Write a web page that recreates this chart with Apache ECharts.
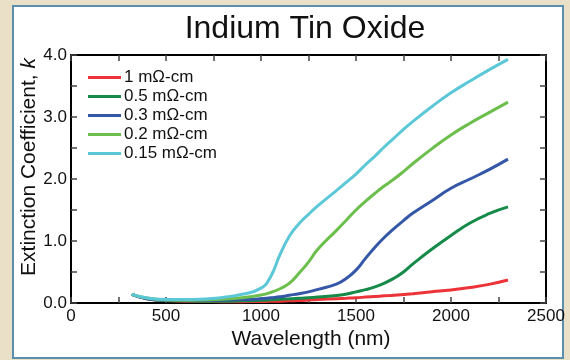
<!DOCTYPE html>
<html>
<head>
<meta charset="utf-8">
<script src="https://cdn.jsdelivr.net/npm/echarts@6/dist/echarts.min.js"></script>
<style>
  html, body { margin: 0; padding: 0; }
  #wrap { position: relative; width: 570px; height: 360px; background: #eadfc7; }
  #panel {
    position: absolute; left: 12px; top: 5px; width: 552px; height: 354px;
    box-sizing: border-box; border: 2px solid #5a8fae; background: #ffffff;
  }
  #chart { position: absolute; left: 0; top: 0; width: 570px; height: 360px; }
</style>
</head>
<body>
<div id="wrap">
  <div id="panel"></div>
  <div id="chart"></div>
</div>
<script>
// wavelength grid (nm) shared by all curves
const wavelength = [320, 400, 500, 600, 700, 800, 900, 1000, 1050, 1100, 1150, 1200, 1250, 1300, 1400, 1450, 1500, 1550, 1600, 1650, 1700, 1750, 1800, 1900, 2000, 2100, 2200, 2300];

// extinction coefficient k
const k_1 = [0.14, 0.07, 0.04, 0.03, 0.025, 0.02, 0.02, 0.025, 0.027, 0.03, 0.035, 0.04, 0.047, 0.055, 0.07, 0.077, 0.085, 0.095, 0.105, 0.115, 0.125, 0.137, 0.15, 0.18, 0.21, 0.25, 0.3, 0.37];
const k_05 = [0.14, 0.07, 0.04, 0.035, 0.03, 0.03, 0.035, 0.045, 0.052, 0.06, 0.067, 0.075, 0.085, 0.095, 0.12, 0.145, 0.18, 0.215, 0.26, 0.32, 0.4, 0.5, 0.63, 0.87, 1.09, 1.29, 1.44, 1.55];
const k_03 = [0.14, 0.07, 0.045, 0.04, 0.04, 0.045, 0.055, 0.07, 0.085, 0.1, 0.125, 0.15, 0.18, 0.22, 0.31, 0.4, 0.53, 0.72, 0.9, 1.06, 1.2, 1.33, 1.45, 1.65, 1.85, 2.0, 2.15, 2.32];
const k_02 = [0.14, 0.08, 0.05, 0.045, 0.05, 0.06, 0.085, 0.13, 0.17, 0.23, 0.32, 0.48, 0.66, 0.87, 1.18, 1.34, 1.5, 1.64, 1.77, 1.89, 2.0, 2.12, 2.25, 2.49, 2.71, 2.9, 3.07, 3.24];
const k_015 = [0.14, 0.08, 0.055, 0.055, 0.065, 0.09, 0.14, 0.24, 0.42, 0.78, 1.08, 1.28, 1.43, 1.57, 1.82, 1.95, 2.08, 2.23, 2.37, 2.52, 2.66, 2.8, 2.93, 3.17, 3.39, 3.58, 3.76, 3.93];

const names = ["1 mΩ-cm", "0.5 mΩ-cm", "0.3 mΩ-cm", "0.2 mΩ-cm", "0.15 mΩ-cm"];
const colors = ["#ec3338", "#168a48", "#3557a8", "#6cbf4c", "#5cc8d7"];
const values = [k_1, k_05, k_03, k_02, k_015];

const font = "Liberation Sans, Arial, sans-serif";

const chart = echarts.init(document.getElementById("chart"));

const tickStyle = { show: true, inside: true, length: 6, lineStyle: { color: "#444", width: 1.5 } };
const minorStyle = { show: true, splitNumber: 2, length: 6, lineStyle: { color: "#444", width: 1.5 } };
const lineStyle = { show: true, onZero: false, lineStyle: { color: "#000", width: 2 } };

const option = {
  animation: false,
  title: {
    text: "Indium Tin Oxide",
    left: 300,
    textAlign: "center",
    top: 8,
    textStyle: { fontFamily: font, fontSize: 32, fontWeight: "normal", color: "#111" },
  },
  legend: {
    orient: "vertical",
    left: 88,
    top: 68,
    itemWidth: 33,
    itemHeight: 3,
    itemGap: 0,
    icon: "rect",
    padding: 0,
    data: names,
    textStyle: { fontFamily: font, fontSize: 17, color: "#111", lineHeight: 19, padding: [0, 0, 0, -2] },
  },
  grid: { left: 71, right: 24, top: 55, bottom: 57 },
  xAxis: [
    {
      type: "value",
      min: 0,
      max: 2500,
      interval: 500,
      name: "Wavelength (nm)",
      nameLocation: "middle",
      nameGap: 26,
      nameMoveOverlap: false,
      nameTextStyle: { fontFamily: font, fontSize: 21, color: "#111", padding: [0, 0, 0, 5] },
      axisLine: lineStyle,
      axisTick: tickStyle,
      minorTick: minorStyle,
      splitLine: { show: false },
      axisLabel: { fontFamily: font, fontSize: 17, color: "#111", margin: 5, formatter: (v) => String(v) },
    },
    {
      type: "value",
      position: "top",
      min: 0,
      max: 2500,
      interval: 500,
      axisLine: lineStyle,
      axisTick: tickStyle,
      minorTick: minorStyle,
      splitLine: { show: false },
      axisLabel: { show: false },
    },
  ],
  yAxis: [
    {
      type: "value",
      min: 0,
      max: 4,
      interval: 1,
      name: "{a|Extinction Coefficient, }{b|k}",
      nameLocation: "middle",
      nameGap: 31,
      nameMoveOverlap: false,
      nameTextStyle: {
        padding: [0, 0, 0, 24],
        rich: {
          a: { fontFamily: font, fontSize: 21, color: "#111" },
          b: { fontFamily: font, fontSize: 21, color: "#111", fontStyle: "italic" },
        },
      },
      axisLine: lineStyle,
      axisTick: tickStyle,
      minorTick: minorStyle,
      splitLine: { show: false },
      axisLabel: {
        fontFamily: font, fontSize: 17, color: "#111", margin: 4,
        formatter: (v) => v.toFixed(1),
      },
    },
    {
      type: "value",
      position: "right",
      min: 0,
      max: 4,
      interval: 1,
      axisLine: lineStyle,
      axisTick: tickStyle,
      minorTick: minorStyle,
      splitLine: { show: false },
      axisLabel: { show: false },
    },
  ],
  series: names.map((n, i) => ({
    name: n,
    type: "line",
    data: wavelength.map((w, j) => [w, values[i][j]]),
    smooth: 0.5,
    showSymbol: false,
    color: colors[i],
    lineStyle: { width: 3, color: colors[i] },
    z: 2 + i,
  })),
};

chart.setOption(option);
</script>
</body>
</html>
